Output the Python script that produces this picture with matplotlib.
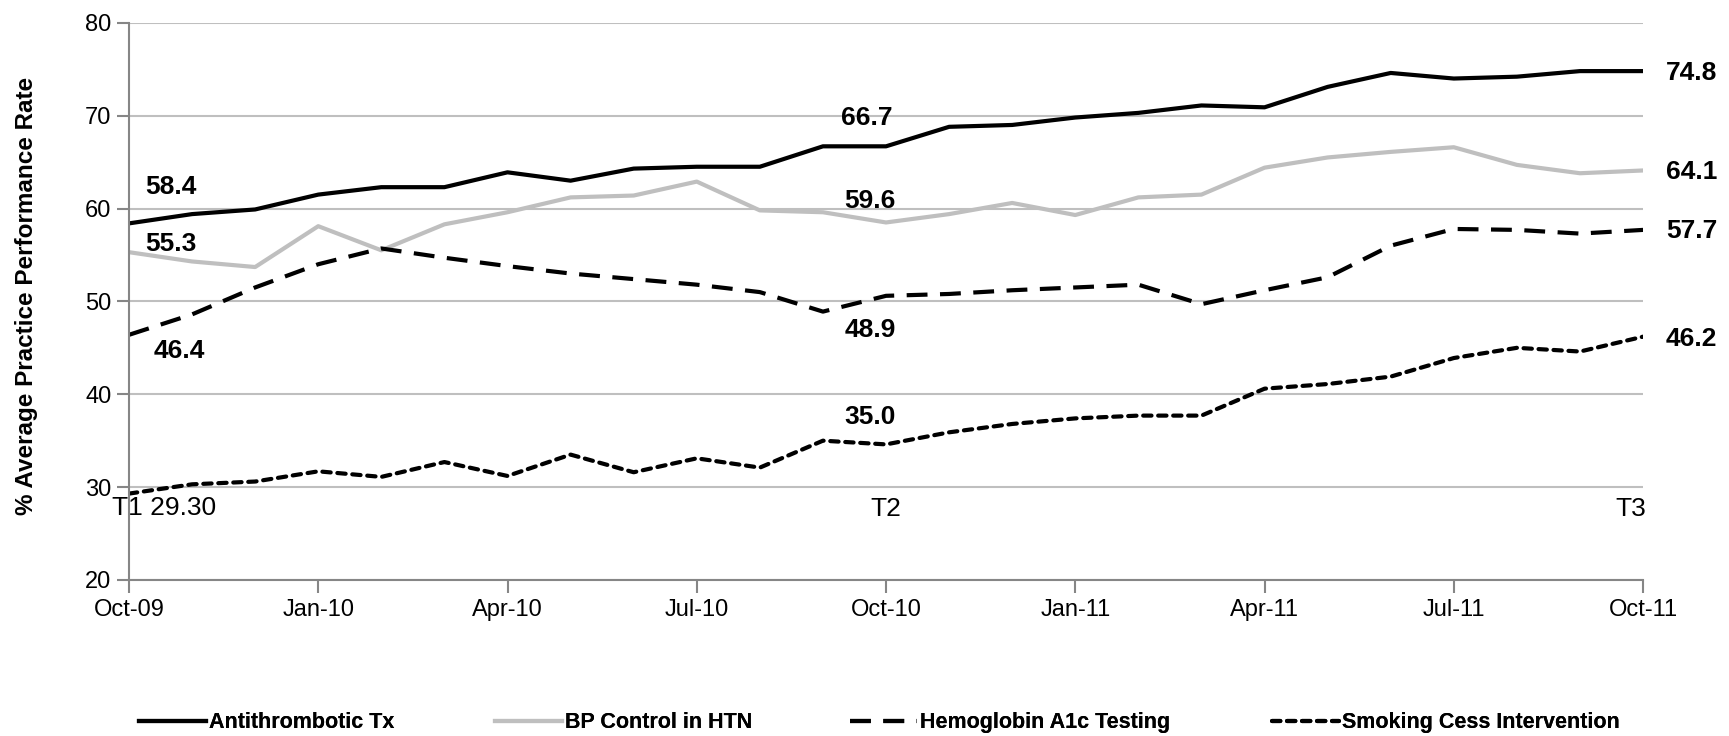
import matplotlib
matplotlib.use("Agg")
import matplotlib.pyplot as plt
import numpy as np

months = ["Oct-09", "Nov-09", "Dec-09", "Jan-10", "Feb-10", "Mar-10", "Apr-10",
          "May-10", "Jun-10", "Jul-10", "Aug-10", "Sep-10", "Oct-10", "Nov-10",
          "Dec-10", "Jan-11", "Feb-11", "Mar-11", "Apr-11", "May-11", "Jun-11",
          "Jul-11", "Aug-11", "Sep-11", "Oct-11"]

antithrombotic = [58.4, 59.4, 59.9, 61.5, 62.3, 62.3, 63.9, 63.0, 64.3, 64.5, 64.5,
                  66.7, 66.7, 68.8, 69.0, 69.8, 70.3, 71.1, 70.9, 73.1, 74.6,
                  74.0, 74.2, 74.8, 74.8]
bp_control = [55.3, 54.3, 53.7, 58.1, 55.5, 58.3, 59.6, 61.2, 61.4, 62.9, 59.8,
              59.6, 58.5, 59.4, 60.6, 59.3, 61.2, 61.5, 64.4, 65.5, 66.1,
              66.6, 64.7, 63.8, 64.1]
hba1c = [46.4, 48.6, 51.5, 54.0, 55.7, 54.7, 53.8, 53.0, 52.4, 51.8, 51.0,
         48.9, 50.6, 50.8, 51.2, 51.5, 51.8, 49.7, 51.2, 52.6, 56.0,
         57.8, 57.7, 57.3, 57.7]
smoking = [29.3, 30.3, 30.6, 31.7, 31.1, 32.7, 31.2, 33.5, 31.6, 33.1, 32.1,
           35.0, 34.6, 35.9, 36.8, 37.4, 37.7, 37.7, 40.6, 41.1, 41.9,
           43.9, 45.0, 44.6, 46.2]

tick_every = 3
plt.rcParams["font.family"] = ["Liberation Sans", "DejaVu Sans"]

x = np.arange(len(months))

fig = plt.figure(figsize=(17.29, 7.36), dpi=100)
ax = fig.add_axes([0.0746, 0.212, 0.8757, 0.757])

l1, = ax.plot(x, antithrombotic, color="black", lw=3, solid_joinstyle="round")
l2, = ax.plot(x, bp_control, color="#bfbfbf", lw=3, solid_joinstyle="round")
l3, = ax.plot(x, hba1c, color="black", lw=3, dashes=(5, 3.0))
l4, = ax.plot(x, smoking, color="black", lw=3, dashes=(2.0, 1.6), dash_capstyle="round")

ax.set_xlim(0, 24)
ax.set_ylim(20, 80)
ax.set_yticks(range(20, 81, 10))
ax.set_xticks(x[::tick_every])
ax.set_xticklabels(months[::tick_every])
ax.yaxis.grid(True, color="#bfbfbf", lw=1.5)
ax.set_axisbelow(True)
for s in ["top", "right"]:
    ax.spines[s].set_visible(False)
for s in ["left", "bottom"]:
    ax.spines[s].set_color("#868686")
    ax.spines[s].set_linewidth(1.5)
ax.tick_params(axis="both", colors="#868686", length=9, width=1.5, labelsize=17,
               labelcolor="black")
ax.tick_params(axis="x", pad=5)
ax.set_ylabel("% Average Practice Performance Rate", fontsize=17.5, fontweight="bold")
ax.yaxis.set_label_coords(-0.060, 0.51)

# data labels
bold_lbl = dict(fontsize=19, fontweight="bold", ha="center", va="center")
reg_lbl = dict(fontsize=19, ha="center", va="center")
ax.text(0.66, 62.3, "58.4", **bold_lbl)
ax.text(0.66, 56.2, "55.3", **bold_lbl)
ax.text(0.79, 44.7, "46.4", **bold_lbl)
ax.text(-0.27, 27.7, "T1 29.30", fontsize=19, ha="left", va="center")
ax.text(11.7, 69.8, "66.7", **bold_lbl)
ax.text(11.75, 60.8, "59.6", **bold_lbl)
ax.text(11.75, 46.9, "48.9", **bold_lbl)
ax.text(11.75, 37.6, "35.0", **bold_lbl)
ax.text(12.0, 27.6, "T2", **reg_lbl)
ax.text(23.8, 27.6, "T3", **reg_lbl)
for v, yv in [(74.8, 74.6), (64.1, 63.9), (57.7, 57.6), (46.2, 46.0)]:
    ax.text(24.77, yv, f"{v:.1f}", clip_on=False, **bold_lbl)

# legend entries placed one by one (start of each handle, in figure pixels)
entries = [(l1, "Antithrombotic Tx", 139), (l2, "BP Control in HTN", 495),
           (l3, "Hemoglobin A1c Testing", 850), (l4, "Smoking Cess Intervention", 1272)]
W = 1729.0
for h, name, px in entries:
    lg = fig.legend([h], [name], loc="center left", bbox_to_anchor=(px / W, 0.018),
                    frameon=False, borderpad=0, borderaxespad=0, handlelength=3.1,
                    handletextpad=0.15, prop={"weight": "bold", "size": 15.5})
    fig.add_artist(lg)

fig.savefig("out.png", dpi=100)
